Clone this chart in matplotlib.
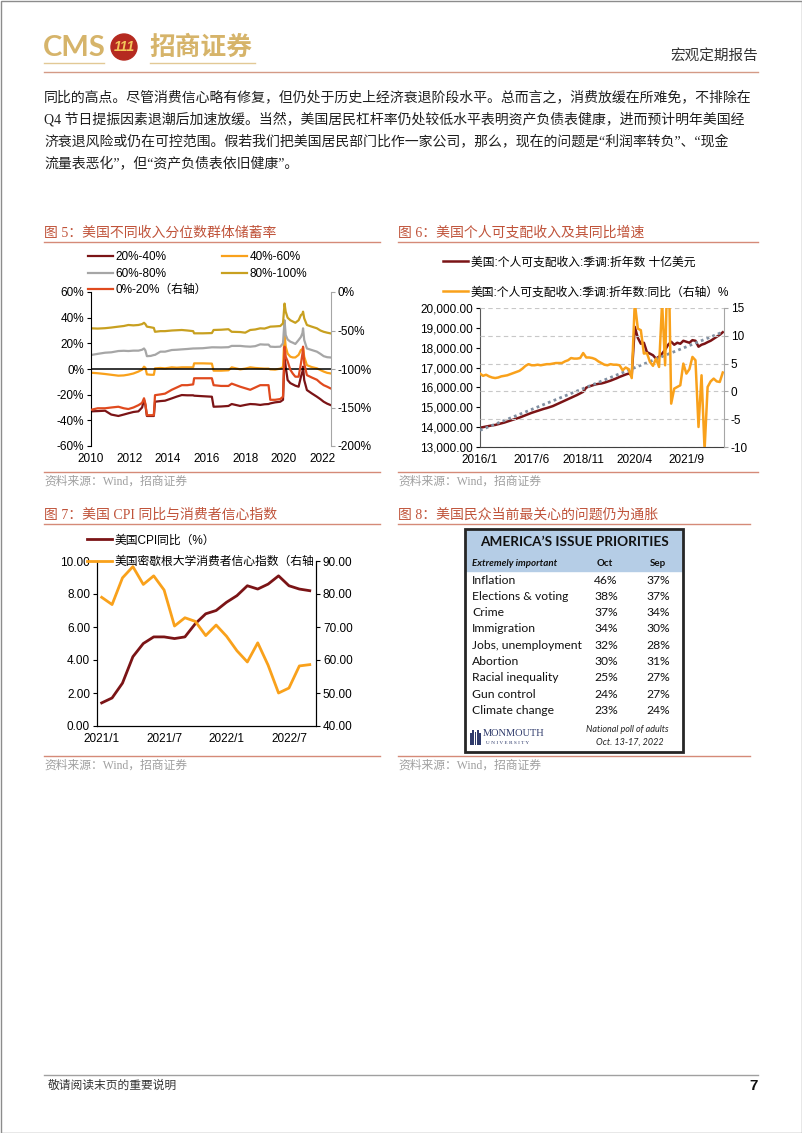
import numpy as np
import matplotlib
matplotlib.use('Agg')
import matplotlib.pyplot as plt
from matplotlib.patches import Rectangle, Circle
from matplotlib.ticker import FuncFormatter

plt.rcParams['font.family'] = ['Liberation Sans', 'Noto Sans CJK SC']
plt.rcParams['axes.unicode_minus'] = False

W, H = 802, 1133

# ---------------- data ----------------
body_lines = [
    '同比的高点。尽管消费信心略有修复，但仍处于历史上经济衰退阶段水平。总而言之，消费放缓在所难免，不排除在',
    'Q4 节日提振因素退潮后加速放缓。当然，美国居民杠杆率仍处较低水平表明资产负债表健康，进而预计明年美国经',
    '济衰退风险或仍在可控范围。假若我们把美国居民部门比作一家公司，那么，现在的问题是“利润率转负”、“现金',
    '流量表恶化”，但“资产负债表依旧健康”。',
]

# fig 5: saving rate by income quintile
years5 = [2010.00, 2010.35, 2010.73, 2011.05, 2011.42, 2011.70, 2011.94, 2012.20, 2012.46, 2012.65,
          2012.75, 2012.82, 2012.90, 2013.10, 2013.26, 2013.32, 2013.60, 2013.84, 2014.19, 2014.45,
          2014.71, 2015.00, 2015.30, 2015.35, 2015.80, 2016.27, 2016.36, 2016.75, 2017.13, 2017.30,
          2017.74, 2018.00, 2018.26, 2018.52, 2018.78, 2019.00, 2019.21, 2019.30, 2019.55, 2019.82,
          2019.96, 2020.04, 2020.10, 2020.20, 2020.34, 2020.47, 2020.60, 2020.77, 2020.89, 2020.97,
          2021.00, 2021.06, 2021.20, 2021.45, 2021.72, 2021.90, 2022.07, 2022.25, 2022.41]
q80_100 = [31.7, 31.5, 31.8, 32.3, 33.0, 33.5, 34.3, 34.0, 34.3, 35.0,
           36.0, 35.0, 33.0, 32.5, 32.0, 29.0, 29.5, 29.5, 30.0, 30.2,
           30.4, 30.0, 29.5, 27.8, 27.8, 28.0, 30.4, 30.6, 31.0, 29.0,
           28.8, 28.3, 30.4, 30.8, 31.7, 31.5, 32.5, 33.0, 33.2, 33.5,
           35.6, 51.0, 44.7, 40.0, 38.0, 37.0, 36.0, 38.0, 42.0, 43.0,
           44.7, 39.5, 34.3, 33.0, 31.7, 30.0, 29.0, 28.3, 27.8]
q60_80 = [10.9, 11.8, 12.7, 13.0, 14.0, 14.2, 14.0, 14.3, 14.3, 15.0,
          16.0, 14.5, 10.0, 10.2, 10.9, 11.0, 13.5, 13.5, 14.8, 15.0,
          15.3, 15.6, 16.0, 16.0, 16.2, 16.9, 16.9, 16.8, 17.0, 18.0,
          18.0, 17.6, 17.4, 17.8, 19.2, 19.0, 19.0, 17.4, 17.2, 17.4,
          20.0, 38.0, 26.5, 23.0, 21.3, 20.5, 19.5, 22.6, 25.0, 28.0,
          31.7, 22.6, 16.0, 14.8, 13.5, 11.8, 10.0, 9.2, 9.0]
q40_60 = [-2.9, -3.3, -3.9, -4.5, -5.2, -5.0, -4.4, -3.5, -2.0, -0.5,
          1.8, 1.0, -4.2, -4.5, -4.5, 0.5, 0.8, 0.5, 1.3, 1.0,
          1.3, 1.3, 1.3, 4.4, 4.4, 4.2, -1.3, -1.3, -1.0, 1.3,
          -0.3, 0.3, 1.3, 0.8, 0.5, 0.3, 0.3, -0.3, -0.5, 0.3,
          1.5, 27.0, 17.4, 12.0, 9.6, 9.0, 9.0, 11.0, 14.8, 15.5,
          16.5, 9.6, 3.0, 1.5, 0.5, -0.8, -2.0, -3.0, -3.4]
q20_40 = [-33.0, -32.8, -32.5, -35.5, -36.6, -35.5, -34.5, -33.5, -33.0, -30.0,
          -24.0, -28.0, -36.6, -36.6, -36.6, -25.5, -25.0, -24.7, -22.9, -21.5,
          -20.3, -20.5, -20.5, -20.8, -21.2, -21.6, -29.4, -29.2, -28.8, -27.3,
          -28.8, -28.0, -27.3, -27.5, -28.0, -27.5, -27.3, -26.8, -26.0, -25.5,
          -24.0, 9.6, 1.8, -8.6, -11.0, -12.0, -13.0, -13.8, -6.0, -2.0,
          1.8, -8.6, -16.4, -19.0, -21.6, -23.5, -25.5, -27.0, -28.0]
q0_20 = [-153, -151, -151, -150, -149, -151, -152, -150, -147, -144,
         -138, -145, -160, -160, -160, -134, -133, -132, -127, -124,
         -121, -121, -120, -112, -112, -112, -121, -122, -122, -119,
         -123, -125, -127, -124, -121, -121, -121, -140, -140, -139,
         -136, -71, -84, -90, -101, -106, -110, -110, -93, -80,
         -71, -93, -108, -111, -114, -118, -121, -123, -125]

# fig 6: disposable personal income, monthly 2016/1 - 2022/9
dpi_level = [13970, 14000, 14030, 14060, 14090, 14110, 14150, 14190, 14230, 14280,
             14330, 14380, 14430, 14480, 14540, 14600, 14660, 14720, 14770, 14820,
             14870, 14920, 14960, 15010, 15060, 15130, 15200, 15270, 15340, 15410,
             15480, 15550, 15620, 15700, 15780, 15990, 16050, 16100, 16150, 16180,
             16200, 16240, 16290, 16340, 16400, 16460, 16530, 16590, 16650, 16700,
             16620, 19050, 18500, 18200, 18250, 17780, 17700, 17620, 17450, 17550,
             17700, 17900, 18150, 18300, 18150, 18250, 18200, 18350, 18300, 18250,
             18380, 18350, 18050, 18150, 18200, 18280, 18350, 18450, 18550, 18650,
             18780]
dpi_yoy = [3.2, 2.8, 3.0, 2.7, 2.5, 2.4, 2.5, 2.7, 2.8, 2.9,
           3.1, 3.3, 3.5, 3.7, 4.1, 4.6, 4.9, 4.7, 4.7, 4.8,
           4.7, 4.8, 4.9, 4.9, 5.0, 5.1, 5.1, 5.1, 5.4, 5.6,
           6.0, 5.9, 5.9, 6.0, 6.9, 6.1, 6.1, 6.0, 5.8, 5.4,
           5.1, 4.8, 4.7, 4.9, 4.8, 4.8, 4.7, 3.8, 4.3, 4.0,
           2.4, 16.0, 11.3, 11.0, 6.8, 6.9, 5.3, 4.6, 5.9, 4.4,
           16.0, 4.7, 29.0, -2.2, 0.5, 0.8, 1.1, 5.0, 3.2, 4.0,
           6.2, 5.6, -6.4, 2.9, -10.5, 0.8, 1.8, 2.3, 1.8, 1.7,
           3.4]
# linear trend line ends (Excel trendline)
trend_months = [0, 80]
trend_level = [13840, 18790]
months6 = np.arange(len(dpi_level))
tick_pos6 = [0, 17, 34, 51, 68]
tick_lab6 = ['2016/1', '2017/6', '2018/11', '2020/4', '2021/9']

# fig 7: CPI yoy and Michigan sentiment, 2021/1 - 2022/9
cpi_yoy = [1.4, 1.7, 2.6, 4.2, 5.0, 5.4, 5.4, 5.3, 5.4, 6.2, 6.8, 7.0, 7.5, 7.9, 8.5, 8.3, 8.6, 9.1, 8.5, 8.3, 8.2]
umich = [79.0, 76.8, 84.9, 88.3, 82.9, 85.5, 81.2, 70.3, 72.8, 71.7, 67.4, 70.6, 67.2, 62.8, 59.4, 65.2, 58.4, 50.0, 51.5, 58.2, 58.6]
months7 = np.arange(len(cpi_yoy))
tick_pos7 = [0, 6, 12, 18]
tick_lab7 = ['2021/1', '2021/7', '2022/1', '2022/7']

# fig 8: issue priorities table
issues = ['Inflation', 'Elections & voting', 'Crime', 'Immigration', 'Jobs, unemployment',
          'Abortion', 'Racial inequality', 'Gun control', 'Climate change']
oct_pct = ['46%', '38%', '37%', '34%', '32%', '30%', '25%', '24%', '23%']
sep_pct = ['37%', '37%', '34%', '30%', '28%', '31%', '27%', '27%', '24%']

# ---------------- helpers ----------------
def rect(x0, y0, x1, y1):
    return [x0 / W, 1 - y1 / H, (x1 - x0) / W, (y1 - y0) / H]

def fpt(x, y):
    return (x / W, 1 - y / H)

DARK = '#7B1416'
ORANGE = '#F9A11B'
GRAY = '#A6A6A6'
GOLD = '#C8A020'
RED = '#E04A1E'
TITLE_C = '#C0533A'
TICK_FS = 8.5

fig = plt.figure(figsize=(W / 100, H / 100), dpi=100)
bg = fig.add_axes([0, 0, 1, 1])
bg.set_xlim(0, W)
bg.set_ylim(H, 0)
bg.axis('off')

# page border
bg.add_patch(Rectangle((0.5, 0.5), W - 1, H - 1, fill=False, ec='#8C8C8C', lw=1))

# header
gold_logo = '#D6B46A'
bg.text(43, 48, 'CMS', fontsize=21, fontweight='bold', color=gold_logo, va='center', ha='left',
        family=['Lato', 'Liberation Sans'])
bg.add_patch(Circle((124, 47), 13, color='#B52A20'))
bg.text(124, 47, '111', fontsize=10, fontweight='bold', style='italic', color='#F3C65A',
        ha='center', va='center')
bg.text(149, 47, '招商证券', fontsize=18.5, fontweight='bold', color=gold_logo, va='center', ha='left',
        family=['Noto Sans CJK SC'])
bg.plot([44, 104], [63, 63], color='#E2C995', lw=1)
bg.plot([150, 255], [63, 63], color='#E2C995', lw=1)
bg.text(758, 57, '宏观定期报告', fontsize=10.5, color='#333333', ha='right', va='center')
bg.plot([44, 758], [72, 72], color='#D49A86', lw=1)

# body text
for i, line in enumerate(body_lines):
    bg.text(44, 97 + i * 22.5, line, fontsize=10, color='#1E1E1E', va='center', ha='left',
            family=['Liberation Serif', 'Noto Sans CJK SC'])

# figure titles, rules and sources
titles = [(44, 233, 380, '图 5：美国不同收入分位数群体储蓄率'),
          (398, 233, 758, '图 6：美国个人可支配收入及其同比增速'),
          (44, 515, 380, '图 7：美国 CPI 同比与消费者信心指数'),
          (398, 515, 750, '图 8：美国民众当前最关心的问题仍为通胀')]
for x0, y0, x1, t in titles:
    bg.text(x0, y0, t, fontsize=10, color=TITLE_C, va='center', ha='left',
            family=['Liberation Serif', 'Noto Sans CJK SC'])
    bg.plot([x0, x1], [y0 + 8.5, y0 + 8.5], color='#D58A78', lw=1)
for x0, y0, x1 in [(44, 472, 380), (398, 472, 758), (44, 756, 380), (398, 756, 750)]:
    bg.plot([x0, x1], [y0, y0], color='#D58A78', lw=1)
    bg.text(x0, y0 + 9.5, '资料来源：Wind，招商证券', fontsize=8.5, color='#A0A0A0', va='center',
            ha='left', family=['Liberation Serif', 'Noto Sans CJK SC'])

# footer
bg.plot([44, 758], [1075, 1075], color='#A0A0A0', lw=1)
bg.text(48, 1086, '敬请阅读末页的重要说明', fontsize=8.5, color='#333333', va='center', ha='left')
bg.text(758, 1086, '7', fontsize=11, fontweight='bold', color='#111111', va='center', ha='right')

# ---------------- figure 5 ----------------
ax5 = fig.add_axes(rect(91, 292, 331, 446))
ax5r = ax5.twinx()
ax5.set_xlim(2010, 2022.45)
ax5.set_ylim(-60, 60)
ax5r.set_ylim(-200, 0)
l2040, = ax5.plot(years5, q20_40, color=DARK, lw=1.6, label='20%-40%')
l4060, = ax5.plot(years5, q40_60, color=ORANGE, lw=1.6, label='40%-60%')
l6080, = ax5.plot(years5, q60_80, color=GRAY, lw=1.6, label='60%-80%')
l80100, = ax5.plot(years5, q80_100, color=GOLD, lw=1.6, label='80%-100%')
ax5.axhline(0, color='black', lw=1.1, zorder=5)
l020, = ax5r.plot(years5, q0_20, color=RED, lw=1.6, label='0%-20%（右轴）')
ax5.set_xticks(range(2010, 2023, 2))
ax5.set_yticks(range(-60, 61, 20))
ax5r.set_yticks(range(-200, 1, 50))
ax5.yaxis.set_major_formatter(FuncFormatter(lambda v, p: f'{v:.0f}%'))
ax5r.yaxis.set_major_formatter(FuncFormatter(lambda v, p: f'{v:.0f}%'))
for a in (ax5, ax5r):
    for s in ('top', 'bottom'):
        a.spines[s].set_visible(False)
    a.patch.set_visible(False)
ax5.spines['right'].set_visible(False)
ax5r.spines['left'].set_visible(False)
ax5r.spines['right'].set_color(GRAY)
ax5.tick_params(axis='x', length=0, labelsize=TICK_FS, pad=5)
ax5.tick_params(axis='y', length=3, labelsize=TICK_FS, pad=2)
ax5r.tick_params(axis='y', length=3, color=GRAY, labelsize=TICK_FS, pad=2)

fig.legend(handles=[l2040, l6080, l020], loc='upper left', bbox_to_anchor=fpt(88, 251.5),
           bbox_transform=fig.transFigure, frameon=False, fontsize=8.5, handlelength=2.1,
           handletextpad=0.25, labelspacing=0.35, borderpad=0, borderaxespad=0)
fig.legend(handles=[l4060, l80100], loc='upper left', bbox_to_anchor=fpt(222, 251.5),
           bbox_transform=fig.transFigure, frameon=False, fontsize=8.5, handlelength=2.1,
           handletextpad=0.25, labelspacing=0.35, borderpad=0, borderaxespad=0)

# ---------------- figure 6 ----------------
ax6 = fig.add_axes(rect(480, 308, 724, 447))
ax6r = ax6.twinx()
ax6.set_xlim(0, 80.4)
ax6.set_ylim(13000, 20000)
ax6r.set_ylim(-10, 15)
ax6.plot(trend_months, trend_level, color='#8190A2', lw=2, ls=(0, (1, 1.2)), zorder=3)
m1, = ax6.plot(months6, dpi_level, color=DARK, lw=1.8, label='美国:个人可支配收入:季调:折年数 十亿美元', zorder=2)
m2, = ax6r.plot(months6, dpi_yoy, color=ORANGE, lw=1.8, label='美国:个人可支配收入:季调:折年数:同比（右轴）%')
ax6r.grid(axis='y', color='#C8C8C8', ls=(0, (4, 3)), lw=0.8)
ax6r.set_axisbelow(True)
ax6.set_xticks(tick_pos6)
ax6.set_xticklabels(tick_lab6)
ax6.set_yticks(range(13000, 20001, 1000))
ax6.yaxis.set_major_formatter(FuncFormatter(lambda v, p: f'{v:,.2f}'))
ax6r.set_yticks(range(-10, 16, 5))
for a in (ax6, ax6r):
    a.spines['top'].set_visible(False)
ax6.spines['right'].set_visible(False)
ax6r.spines['left'].set_visible(False)
ax6.spines['left'].set_color('#595959')
ax6r.spines['right'].set_color(GRAY)
ax6.spines['bottom'].set_color('#404040')
ax6r.spines['bottom'].set_visible(False)
ax6.tick_params(axis='x', length=0, labelsize=TICK_FS, pad=5)
ax6.tick_params(axis='y', length=3, labelsize=TICK_FS, pad=2)
ax6r.tick_params(axis='y', length=3, color=GRAY, labelsize=TICK_FS, pad=2)

fig.legend(handles=[m1, m2], loc='upper left', bbox_to_anchor=fpt(443, 256.5),
           bbox_transform=fig.transFigure, frameon=False, fontsize=8.5, handlelength=2.1,
           handletextpad=0.25, labelspacing=1.5, borderpad=0, borderaxespad=0)

# ---------------- figure 7 ----------------
ax7 = fig.add_axes(rect(97, 561, 316, 726))
ax7r = ax7.twinx()
ax7.set_xlim(-0.45, 20.6)
ax7.set_ylim(0, 10)
ax7r.set_ylim(40, 90)
c1, = ax7.plot(months7, cpi_yoy, color=DARK, lw=2, label='美国CPI同比（%）')
c2, = ax7r.plot(months7, umich, color=ORANGE, lw=2, label='美国密歇根大学消费者信心指数（右轴')
ax7.set_xticks(tick_pos7)
ax7.set_xticklabels(tick_lab7)
ax7.set_yticks(range(0, 11, 2))
ax7r.set_yticks(range(40, 91, 10))
ax7.yaxis.set_major_formatter(FuncFormatter(lambda v, p: f'{v:.2f}'))
ax7r.yaxis.set_major_formatter(FuncFormatter(lambda v, p: f'{v:.2f}'))
for a in (ax7, ax7r):
    a.spines['top'].set_visible(False)
ax7.tick_params(axis='x', length=0, labelsize=TICK_FS, pad=5)
ax7.tick_params(axis='y', length=3, labelsize=TICK_FS, pad=2)
ax7r.tick_params(axis='y', length=3, labelsize=TICK_FS, pad=2)

fig.legend(handles=[c1, c2], loc='upper left', bbox_to_anchor=fpt(87, 534.5),
           bbox_transform=fig.transFigure, frameon=False, fontsize=8.5, handlelength=2.1,
           handletextpad=0.25, labelspacing=0.8, borderpad=0, borderaxespad=0)

# ---------------- figure 8 (table) ----------------
bx0, by0, bx1, by1 = 465, 529, 683, 752
tab_font = ['Lato', 'Liberation Sans']
bg.add_patch(Rectangle((bx0, by0 + 1), bx1 - bx0, 41, color='#B5CDE6', zorder=2))
bg.add_patch(Rectangle((bx0, by0), bx1 - bx0, by1 - by0, fill=False, ec='#262626', lw=2, zorder=3))
bg.text((bx0 + bx1) / 2, 542, 'AMERICA’S ISSUE PRIORITIES', fontsize=9.8, fontweight='bold',
        color='#111111', ha='center', va='center', family=tab_font, zorder=4)
bg.text(472, 563, 'Extremely important', fontsize=7, fontweight='bold', style='italic',
        color='#111111', ha='left', va='center', family=tab_font, zorder=4)
bg.text(605, 563, 'Oct', fontsize=7, fontweight='bold', color='#111111', ha='center', va='center',
        family=tab_font, zorder=4)
bg.text(658, 563, 'Sep', fontsize=7, fontweight='bold', color='#111111', ha='center', va='center',
        family=tab_font, zorder=4)
for i, (name, o, s) in enumerate(zip(issues, oct_pct, sep_pct)):
    yy = 580 + i * 16.3
    bg.text(472, yy, name, fontsize=8.7, color='#111111', ha='left', va='center', family=tab_font)
    bg.text(606, yy, o, fontsize=8.7, color='#111111', ha='center', va='center', family=tab_font)
    bg.text(658, yy, s, fontsize=8.7, color='#111111', ha='center', va='center', family=tab_font)
navy = '#2E3A6B'
for k, hgt in enumerate([12, 15, 13, 15, 12]):
    bg.add_patch(Rectangle((470 + k * 2.3, 745 - hgt), 1.6, hgt, color=navy, lw=0))
bg.text(483, 733, 'MONMOUTH', fontsize=7.5, color=navy, ha='left', va='center',
        family=['Liberation Serif'])
bg.text(486, 742.5, 'U N I V E R S I T Y', fontsize=3.8, color=navy, ha='left', va='center',
        family=['Liberation Serif'])
bg.text(627, 730, 'National poll of adults', fontsize=6.5, style='italic', color='#222222',
        ha='center', va='center', family=tab_font)
bg.text(664, 742, 'Oct. 13-17, 2022', fontsize=6.5, style='italic', color='#222222',
        ha='right', va='center', family=tab_font)

fig.savefig('out.png', dpi=100)
